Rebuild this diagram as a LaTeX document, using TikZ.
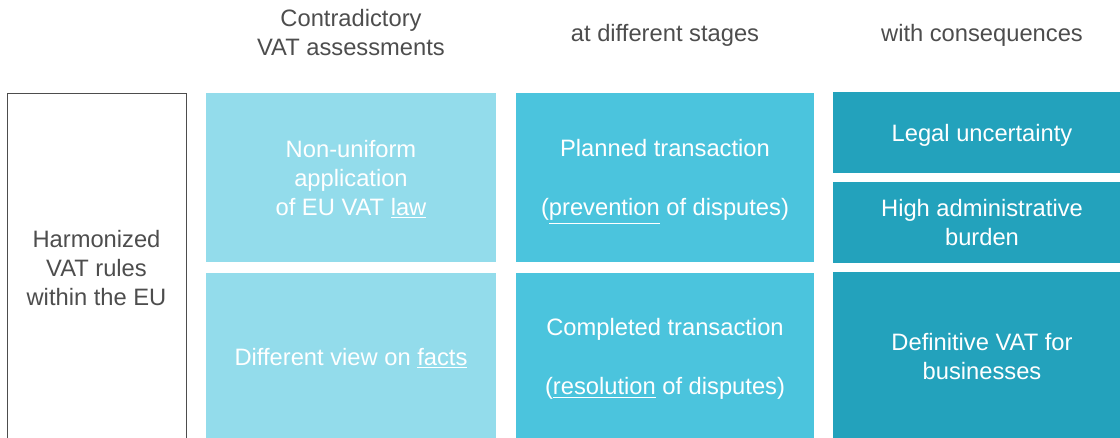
\documentclass[tikz,border=0pt]{standalone}
\usepackage{fontspec}
\setmainfont{Liberation Sans}
\definecolor{cellA}{HTML}{93DCEB}
\definecolor{cellB}{HTML}{4BC4DD}
\definecolor{cellC}{HTML}{23A2BC}
\definecolor{inkgray}{HTML}{4D4D4D}
\tikzset{
  txt/.style={font={\fontsize{13.5}{16.5}\selectfont}, align=center, inner sep=0pt, text depth=0pt},
  head/.style={txt, text=inkgray},
  cell/.style={txt, text=white, minimum width=#1},
}

\begin{document}
\begin{tikzpicture}
      \useasboundingbox (0,0) rectangle (22.4,-8.76);

      \node[head] (h1) at (7.02,-0.64) {Contradictory\\VAT assessments};
      \node[head] (h2) at (13.3,-0.66) {at different stages};
      \node[head] (h3) at (19.64,-0.66) {with consequences};

      \node[txt, draw=inkgray, text=inkgray, minimum width=3.58cm, minimum height=7cm] (harm) at (1.93,-5.36) {Harmonized\\VAT rules\\within the EU};

      \node[cell=5.8cm, fill=cellA, minimum height=3.38cm] (law) at (7.02,-3.55) {Non-uniform\\application\\of EU VAT \underline{law}};
      \node[cell=5.8cm, fill=cellA, minimum height=3.34cm] (facts) at (7.02,-7.13) {Different view on \underline{facts}};

      \node[cell=5.96cm, fill=cellB, minimum height=3.38cm] (planned) at (13.3,-3.55) {Planned transaction\\[17pt](\underline{prevention} of disputes)};
      \node[cell=5.96cm, fill=cellB, minimum height=3.34cm] (completed) at (13.3,-7.13) {Completed transaction\\[17pt](\underline{resolution} of disputes)};

      \node[cell=5.96cm, fill=cellC, minimum height=1.62cm] (legal) at (19.64,-2.65) {Legal uncertainty};
      \node[cell=5.96cm, fill=cellC, minimum height=1.62cm] (burden) at (19.64,-4.45) {High administrative\\burden};
      \node[cell=5.96cm, fill=cellC, minimum height=3.36cm] (definitive) at (19.64,-7.12) {Definitive VAT for\\businesses};
    \end{tikzpicture}
\end{document}
